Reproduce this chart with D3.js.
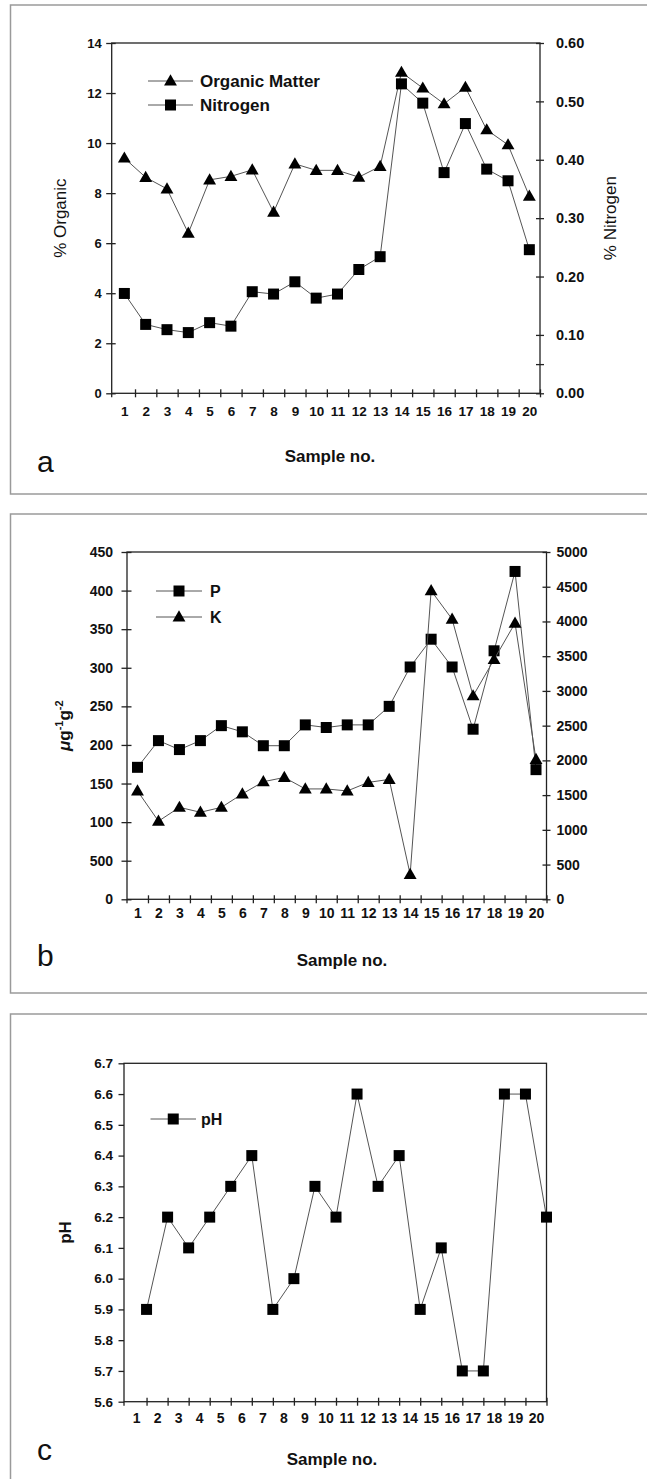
<!DOCTYPE html>
<html>
<head>
<meta charset="utf-8">
<script src="https://cdn.jsdelivr.net/npm/d3@7"></script>
<style>
    body { margin: 0; background: #fff; }
    text { font-family: "Liberation Sans", Arial, sans-serif; fill: #111; }
</style>
</head>
<body>
<svg id="chart" width="647" height="1479"></svg>
<script>
var samples = ['1', '2', '3', '4', '5', '6', '7', '8', '9', '10',
    '11', '12', '13', '14', '15', '16', '17', '18', '19', '20'];

var organicMatter = [9.4, 8.63, 8.17, 6.4, 8.53, 8.67, 8.93, 7.24, 9.17, 8.91,
    8.91, 8.64, 9.07, 12.83, 12.2, 11.57, 12.23, 10.53, 9.93, 7.88];
var nitrogen = [0.171, 0.118, 0.109, 0.104, 0.121, 0.115, 0.174, 0.170, 0.191, 0.163,
    0.170, 0.212, 0.234, 0.530, 0.497, 0.378, 0.462, 0.384, 0.364, 0.246];

var phosphorus = [171, 205.6, 194, 205.6, 225, 217, 199, 199, 226, 222.6,
    226, 226, 250, 301, 337, 301, 220.4, 322, 424.8, 168];
var potassium = [1560, 1125, 1324, 1253, 1324, 1518, 1693, 1754, 1589, 1589,
    1560, 1683, 1726, 359, 4443, 4033, 2929, 3452, 3976, 2014];

var soilPH = [5.9, 6.2, 6.1, 6.2, 6.3, 6.4, 5.9, 6.0, 6.3, 6.2,
    6.6, 6.3, 6.4, 5.9, 6.1, 5.7, 5.7, 6.6, 6.6, 6.2];

var organicTicks = [0, 2, 4, 6, 8, 10, 12, 14];
var nitrogenTicks = [0, 0.05, 0.1, 0.2, 0.3, 0.4, 0.5, 0.6];
var nitrogenTickLabels = ['0.00', '', '0.10', '0.20', '0.30', '0.40', '0.50', '0.60'];
var phosphorusTicks = [0, 50, 100, 150, 200, 250, 300, 350, 400, 450];
var phosphorusTickLabels = ['0', '500', '100', '150', '200', '250', '300', '350', '400', '450'];
var potassiumTicks = [0, 500, 1000, 1500, 2000, 2500, 3000, 3500, 4000, 4500, 5000];
var phTicks = [5.6, 5.7, 5.8, 5.9, 6.0, 6.1, 6.2, 6.3, 6.4, 6.5, 6.6, 6.7];

var svg = d3.select('#chart');

function SamplePanel(config) {
    this.config = config;
    // x runs over sample bands; xStart may sit a bit right of the y axis line
    this.x = d3.scaleLinear()
        .domain([0, samples.length])
        .range([config.xStart || config.left, config.right]);
    this.yLeft = d3.scaleLinear()
        .domain(config.leftAxis.domain)
        .range([config.bottom, config.top]);
    if (config.rightAxis) {
        this.yRight = d3.scaleLinear()
            .domain(config.rightAxis.domain)
            .range([config.bottom, config.top]);
    }
}

SamplePanel.prototype.draw = function() {
    this.g = svg.append('g');
    this._buildFrame();
    this._buildBox();
    this._buildXAxis();
    this._buildLeftAxis();
    if (this.yRight) this._buildRightAxis();
    this._buildSeries();
    this._buildLegend();
    this._buildTitles();
};

SamplePanel.prototype._buildFrame = function() {
    var f = this.config.frame;
    this.g.append('rect')
        .attr('x', f.x)
        .attr('y', f.y)
        .attr('width', f.w)
        .attr('height', f.h)
        .attr('fill', 'none')
        .attr('stroke', '#9a9a9a')
        .attr('stroke-width', 1.5);
};

SamplePanel.prototype._buildBox = function() {
    var c = this.config;
    this.g.append('rect')
        .attr('x', c.left)
        .attr('y', c.top)
        .attr('width', c.right - c.left)
        .attr('height', c.bottom - c.top)
        .attr('fill', 'none')
        .attr('stroke', '#222')
        .attr('stroke-width', 1.3);
};

SamplePanel.prototype._styleAxis = function(axisG, size) {
    axisG.select('.domain').remove();
    axisG.selectAll('.tick line')
        .attr('stroke', '#222')
        .attr('stroke-width', 1.3);
    axisG.selectAll('text')
        .attr('font-size', size)
        .attr('font-weight', 'bold')
        .attr('fill', '#111');
    return axisG;
};

SamplePanel.prototype._buildXAxis = function() {
    var c = this.config;
    var tickValues = d3.range(1, samples.length + 1);
    var tickAxis = d3.axisBottom(this.x)
        .tickValues(tickValues)
        .tickFormat('')
        .tickSize(4);
    var ticks = this.g.append('g')
        .attr('transform', 'translate(0,' + c.bottom + ')')
        .call(tickAxis);
    this._styleAxis(ticks, 12);
    ticks.selectAll('.tick line').attr('y1', -4);

    // the y axis line itself pokes below the x axis like a tick
    this.g.append('line')
        .attr('x1', c.left)
        .attr('x2', c.left)
        .attr('y1', c.bottom)
        .attr('y2', c.bottom + 4)
        .attr('stroke', '#222')
        .attr('stroke-width', 1.3);

    var labelAxis = d3.axisBottom(this.x)
        .tickValues(samples.map(function(s, i) { return i + 0.5; }))
        .tickFormat(function(d) { return samples[Math.floor(d)]; })
        .tickSize(0)
        .tickPadding(c.xLabelGap);
    var labels = this.g.append('g')
        .attr('transform', 'translate(0,' + c.bottom + ')')
        .call(labelAxis);
    this._styleAxis(labels, c.xFontSize);
    labels.selectAll('.tick line').remove();
};

SamplePanel.prototype._buildLeftAxis = function() {
    var a = this.config.leftAxis;
    var axis = d3.axisLeft(this.yLeft)
        .tickValues(a.ticks)
        .tickFormat(function(d, i) { return a.labels ? a.labels[i] : a.format(d); })
        .tickSize(5.5)
        .tickPadding(a.gap - 5.5);
    var g = this.g.append('g')
        .attr('transform', 'translate(' + this.config.left + ',0)')
        .call(axis);
    this._styleAxis(g, a.fontSize);
    g.selectAll('.tick line').attr('x1', a.inner);
};

SamplePanel.prototype._buildRightAxis = function() {
    var a = this.config.rightAxis;
    var axis = d3.axisRight(this.yRight)
        .tickValues(a.ticks)
        .tickFormat(function(d, i) { return a.labels ? a.labels[i] : a.format(d); })
        .tickSize(4)
        .tickPadding(a.gap - 4);
    var g = this.g.append('g')
        .attr('transform', 'translate(' + this.config.right + ',0)')
        .call(axis);
    this._styleAxis(g, a.fontSize);
    g.selectAll('.tick line').attr('x1', -4);
};

SamplePanel.prototype._scaleFor = function(s) {
    return s.axis === 'right' ? this.yRight : this.yLeft;
};

SamplePanel.prototype._buildSeries = function() {
    var self = this;
    var offset = this.config.pointOffset;
    this.config.series.forEach(function(s) {
        var y = self._scaleFor(s);
        var line = d3.line()
            .x(function(d, i) { return self.x(i + offset); })
            .y(function(d) { return y(d); });

        self.g.append('path')
            .datum(s.values)
            .attr('d', line)
            .attr('fill', 'none')
            .attr('stroke', '#555')
            .attr('stroke-width', 1);

        self.g.append('g')
            .selectAll('path')
            .data(s.values)
            .enter()
            .append('path')
            .attr('d', d3.symbol(s.symbol, s.size))
            .attr('transform', function(d, i) {
                return 'translate(' + self.x(i + offset) + ',' + (y(d) + s.shift) + ')';
            })
            .attr('fill', '#000');
    });
};

SamplePanel.prototype._buildLegend = function() {
    var l = this.config.legend;
    var self = this;
    this.config.legendOrder.forEach(function(idx, row) {
        var s = self.config.series[idx];
        var ly = l.y[row];
        self.g.append('line')
            .attr('x1', l.x1)
            .attr('x2', l.x2)
            .attr('y1', ly)
            .attr('y2', ly)
            .attr('stroke', '#555')
            .attr('stroke-width', 1);
        self.g.append('path')
            .attr('d', d3.symbol(s.symbol, s.size))
            .attr('transform', 'translate(' + (l.x1 + l.x2) / 2 + ',' + (ly + s.shift) + ')')
            .attr('fill', '#000');
        self.g.append('text')
            .attr('x', l.textX)
            .attr('y', ly)
            .attr('dy', '0.36em')
            .attr('font-size', l.size)
            .attr('font-weight', 'bold')
            .text(s.name);
    });
};

SamplePanel.prototype._buildTitles = function() {
    var c = this.config;
    var midY = (c.top + c.bottom) / 2;

    var left = this.g.append('text')
        .attr('transform', 'translate(' + c.leftAxis.titleX + ',' + midY + ') rotate(-90)')
        .attr('text-anchor', 'middle')
        .attr('font-size', 17)
        .attr('font-weight', c.leftAxis.bold ? 'bold' : 'normal');
    c.leftAxis.title.forEach(function(part) {
        left.append('tspan')
            .attr('dy', part.dy || 0)
            .attr('font-size', part.size || null)
            .attr('font-style', part.italic ? 'italic' : null)
            .text(part.text);
    });

    if (c.rightAxis && c.rightAxis.title) {
        this.g.append('text')
            .attr('transform', 'translate(' + c.rightAxis.titleX + ',' + midY + ') rotate(-90)')
            .attr('text-anchor', 'middle')
            .attr('font-size', 17)
            .text(c.rightAxis.title);
    }

    this.g.append('text')
        .attr('x', c.xTitleX)
        .attr('y', c.xTitleY)
        .attr('text-anchor', 'middle')
        .attr('font-size', 17)
        .attr('font-weight', 'bold')
        .text('Sample no.');

    this.g.append('text')
        .attr('x', 37)
        .attr('y', c.letterY)
        .attr('font-size', 30)
        .text(c.letter);
};

new SamplePanel({
    frame: { x: 10.5, y: 5, w: 700, h: 489 },
    left: 111.7, xStart: 113.7, right: 540, top: 43, bottom: 393.3,
    pointOffset: 0.5,
    xLabelGap: 13.5, xFontSize: 13.5,
    leftAxis: {
        domain: [0, 14], ticks: organicTicks, format: d3.format('d'),
        gap: 10, inner: 4, fontSize: 13,
        title: [{ text: '% Organic' }], titleX: 66, bold: false
    },
    rightAxis: {
        domain: [0, 0.6], ticks: nitrogenTicks, labels: nitrogenTickLabels,
        gap: 16, fontSize: 14.5,
        title: '% Nitrogen', titleX: 616
    },
    series: [
        { name: 'Organic Matter', values: organicMatter, axis: 'left', symbol: d3.symbolTriangle, size: 72, shift: 0.8 },
        { name: 'Nitrogen', values: nitrogen, axis: 'right', symbol: d3.symbolSquare, size: 121, shift: 0 }
    ],
    legendOrder: [0, 1],
    legend: { x1: 148, x2: 193, textX: 200, y: [81, 105], size: 17 },
    xTitleX: 330, xTitleY: 462,
    letter: 'a', letterY: 472
}).draw();

new SamplePanel({
    frame: { x: 10.5, y: 514, w: 700, h: 479 },
    left: 127, right: 546.5, top: 552, bottom: 899.3,
    pointOffset: 0.5,
    xLabelGap: 8.5, xFontSize: 14,
    leftAxis: {
        domain: [0, 450], ticks: phosphorusTicks, labels: phosphorusTickLabels,
        gap: 14, inner: 4.5, fontSize: 14,
        title: [
            { text: '\u03bc', italic: true },
            { text: 'g' },
            { text: '-1', dy: -7, size: 11 },
            { text: 'g', dy: 7 },
            { text: '-2', dy: -7, size: 11 }
        ],
        titleX: 70, bold: true
    },
    rightAxis: {
        domain: [0, 5000], ticks: potassiumTicks, format: d3.format('d'),
        gap: 10, fontSize: 14
    },
    series: [
        { name: 'P', values: phosphorus, axis: 'left', symbol: d3.symbolSquare, size: 121, shift: 0 },
        { name: 'K', values: potassium, axis: 'right', symbol: d3.symbolTriangle, size: 72, shift: 0.8 }
    ],
    legendOrder: [0, 1],
    legend: { x1: 156, x2: 202, textX: 210, y: [591, 617], size: 16 },
    xTitleX: 342, xTitleY: 966,
    letter: 'b', letterY: 966
}).draw();

new SamplePanel({
    frame: { x: 10.5, y: 1014, w: 700, h: 480 },
    left: 124, xStart: 125.5, right: 546.5, top: 1063.3, bottom: 1401.7,
    pointOffset: 1,
    xLabelGap: 11, xFontSize: 14,
    leftAxis: {
        domain: [5.6, 6.7], ticks: phTicks, format: d3.format('.1f'),
        gap: 11, inner: 0, fontSize: 13.5,
        title: [{ text: 'pH' }], titleX: 71, bold: true
    },
    series: [
        { name: 'pH', values: soilPH, axis: 'left', symbol: d3.symbolSquare, size: 121, shift: 0 }
    ],
    legendOrder: [0],
    legend: { x1: 150.5, x2: 196, textX: 201, y: [1119], size: 16 },
    xTitleX: 332, xTitleY: 1465,
    letter: 'c', letterY: 1460
}).draw();
</script>
</body>
</html>
